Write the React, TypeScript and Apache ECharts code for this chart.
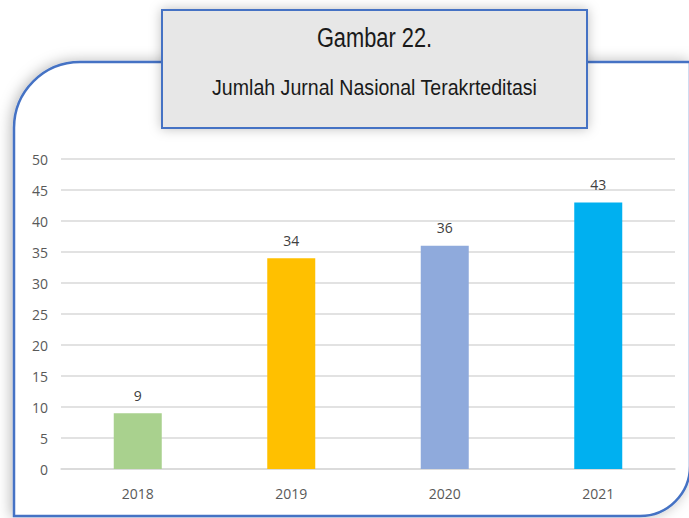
import React, { useEffect, useRef } from "react";
import * as echarts from "echarts";

const categories = ["2018", "2019", "2020", "2021"];
const values = [9, 34, 36, 43];
const barColors = ["#a9d18e", "#ffc000", "#8faadc", "#00b0f0"];
const titleLine1 = "Gambar 22.";
const titleLine2 = "Jumlah Jurnal Nasional Terakrteditasi";

const titleFont = "'Liberation Sans', Arial, sans-serif";
const labelFont = "'Open Sans', 'Noto Sans', sans-serif";

export default function App() {
  const ref = useRef<HTMLDivElement>(null);
  useEffect(() => {
    if (!ref.current) return;
    const chart = echarts.init(ref.current, undefined, { renderer: "svg" });
    chart.setOption({
      animation: false,
      backgroundColor: "#ffffff",
      graphic: [
        {
          type: "rect",
          z: -10,
          silent: true,
          shape: { x: 14, y: 62, width: 676, height: 454, r: [66, 0, 50, 0] },
          style: {
            fill: "#ffffff",
            stroke: "#4472c4",
            lineWidth: 2.5,
            shadowBlur: 14,
            shadowColor: "rgba(0,0,0,0.28)",
            shadowOffsetX: -2,
            shadowOffsetY: 0,
          },
        },
        {
          type: "rect",
          z: 10,
          silent: true,
          shape: { x: 162, y: 10, width: 425, height: 118 },
          style: {
            fill: "#e7e7e7",
            stroke: "#4472c4",
            lineWidth: 2,
            shadowBlur: 12,
            shadowColor: "rgba(0,0,0,0.25)",
          },
        },
        {
          type: "text",
          z: 11,
          silent: true,
          x: 374.5,
          y: 37,
          scaleX: 0.78,
          style: {
            text: titleLine1,
            fill: "#1a1a1a",
            font: `28px ${titleFont}`,
            align: "center",
            verticalAlign: "middle",
          },
        },
        {
          type: "text",
          z: 11,
          silent: true,
          x: 374.5,
          y: 87,
          scaleX: 0.89,
          style: {
            text: titleLine2,
            fill: "#1a1a1a",
            font: `22px ${titleFont}`,
            align: "center",
            verticalAlign: "middle",
          },
        },
      ],
      grid: { left: 61, right: 14, top: 159, bottom: 49, containLabel: false },
      xAxis: {
        type: "category",
        data: categories,
        axisLine: { show: true, lineStyle: { color: "#d9d9d9", width: 1.5 } },
        axisTick: { show: false },
        axisLabel: { color: "#595959", fontSize: 14, fontFamily: labelFont, margin: 17 },
      },
      yAxis: {
        type: "value",
        min: 0,
        max: 50,
        interval: 5,
        axisLine: { show: false },
        axisTick: { show: false },
        splitLine: { lineStyle: { color: "#d9d9d9", width: 1.5 } },
        axisLabel: { color: "#595959", fontSize: 14, fontFamily: labelFont, margin: 13 },
      },
      series: [
        {
          type: "bar",
          barWidth: 48,
          data: values.map((v, i) => ({ value: v, itemStyle: { color: barColors[i] } })),
          label: {
            show: true,
            position: "top",
            distance: 11,
            color: "#404040",
            fontSize: 14,
            fontFamily: labelFont,
          },
        },
      ],
    });
    return () => chart.dispose();
  }, []);
  return <div ref={ref} style={{ position: "fixed", left: 0, top: 0, width: 689, height: 518 }} />;
}
